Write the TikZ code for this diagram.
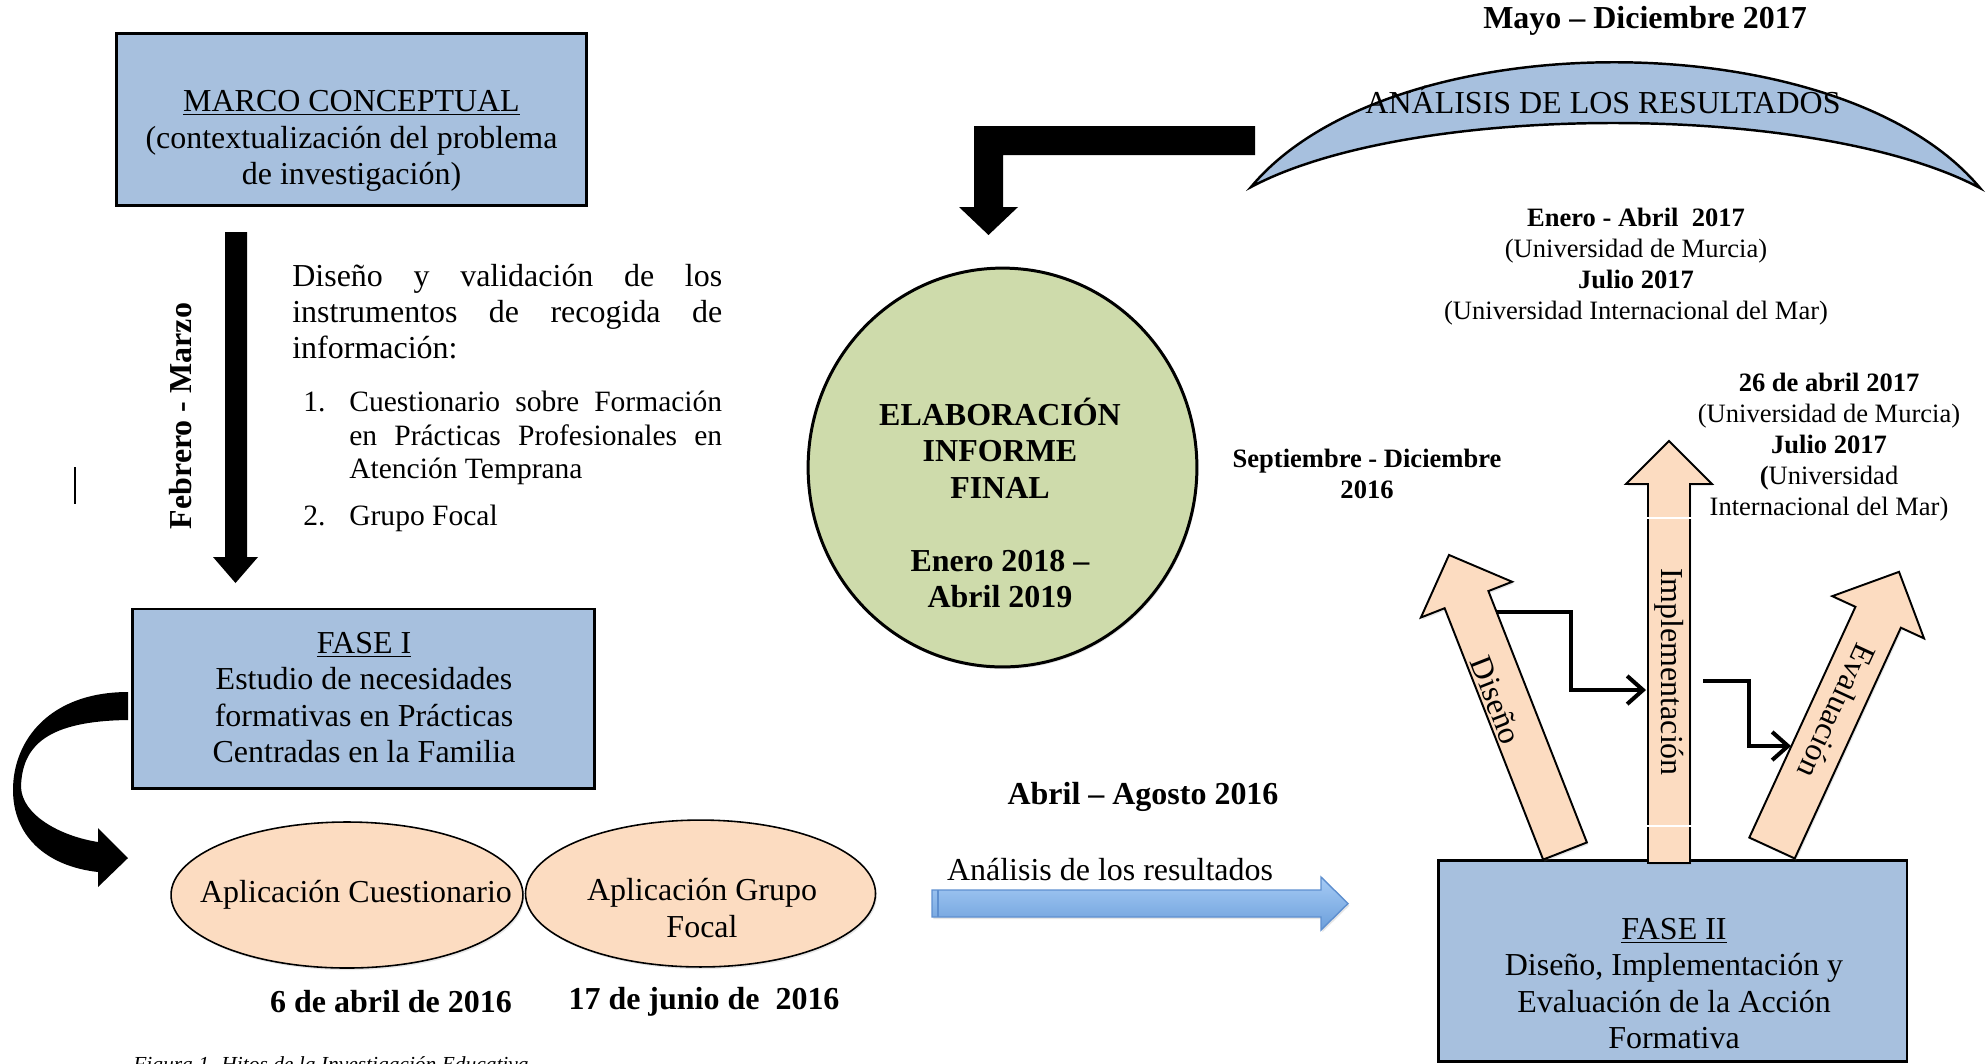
\documentclass[tikz,border=0pt]{standalone}
\usepackage{fontspec}
\setmainfont{Liberation Serif}
\usetikzlibrary{arrows.meta,shapes.geometric,shadows}

\definecolor{boxblue}{HTML}{A7C0DE}
\definecolor{peach}{HTML}{FCDCC1}
\definecolor{sage}{HTML}{CEDBAB}
\definecolor{skytop}{HTML}{A6CBF5}
\definecolor{skybot}{HTML}{6C9FDB}
\definecolor{skyline}{HTML}{5E8FCF}

\newcommand{\sizeL}{\fontsize{18.2}{20.8}\selectfont}
\newcommand{\sizeList}{\fontsize{16.8}{19.3}\selectfont}
\newcommand{\sizeM}{\fontsize{15.1}{17.6}\selectfont}
\newcommand{\sizeS}{\fontsize{12.2}{14.6}\selectfont}

% block arrow pointing along +y, base centred at the origin
% #1 length, #2 shaft width, #3 head width, #4 head length
\newcommand{\upArrow}[4]{%
  \filldraw[arrowbody] (-#2/2,0) -- (-#2/2,#1-#4) -- (-#3/2,#1-#4) -- (0,#1)
    -- (#3/2,#1-#4) -- (#2/2,#1-#4) -- (#2/2,0) -- cycle;}

\begin{document}
\begin{tikzpicture}[x=0.02cm, y=-0.02cm,
  softshadow/.style={drop shadow={shadow xshift=0.8pt, shadow yshift=-1.2pt, opacity=0.2}},
  phasebox/.style={draw=black, line width=1.7pt, fill=boxblue, inner sep=0pt},
  oval/.style={ellipse, draw=black, line width=0.9pt, fill=peach, inner sep=0pt, softshadow},
  arrowbody/.style={draw=black, line width=1.1pt, fill=peach, line join=miter, softshadow},
  txtL/.style={font=\sizeL, align=center, inner sep=0pt},
  txtLb/.style={font=\sizeL\bfseries, align=center, inner sep=0pt},
  txtList/.style={font=\sizeList, inner sep=0pt, anchor=mid west},
  txtM/.style={font=\sizeM, align=center, inner sep=0pt},
  txtMb/.style={font=\sizeM\bfseries, align=center, inner sep=0pt},
  elbow/.style={line width=2.3pt, line join=miter,
    -{Straight Barb[length=9pt, width=16pt, line width=2.3pt]}},
]
\useasboundingbox (0,0) rectangle (1986,1063);
\clip (0,0) rectangle (1986,1063);

% ---------------- left column ----------------
\node[phasebox, minimum width=268pt, minimum height=97.9pt] (marco) at (351.5,119) {};
\node[txtL] (marcotxt) at (351.5,141)
  {\underline{MARCO CONCEPTUAL}\\(contextualización del problema\\de investigación)};

% straight block arrow between the two boxes
\coordinate (fmTop) at (236,232);
\coordinate (fmTip) at (235.5,583);
\fill[black] (fmTop) ++(-11,0) -- ++(22,0) -- (247,557) -- (258,557) -- (fmTip)
  -- (213,557) -- (225,557) -- cycle;
\node[txtLb, rotate=90] (febmar) at (181,416) {Febrero - Marzo};
\draw[line width=1.1pt] (75,467) -- (75,504);

% instruments paragraph
\node[txtL, anchor=mid west] (dis1) at (292,282)
  {\makebox[244.7pt][s]{Diseño y validación de los}};
\node[txtL, anchor=mid west] (dis2) at (292,318)
  {\makebox[244.7pt][s]{instrumentos de recogida de}};
\node[txtL, anchor=mid west] (dis3) at (292,354) {información:};
\node[txtList] (n1) at (303,407) {1.};
\node[txtList] (it1a) at (349,407) {\makebox[212.2pt][s]{Cuestionario sobre Formación}};
\node[txtList] (it1b) at (349,441) {\makebox[212.2pt][s]{en Prácticas Profesionales en}};
\node[txtList] (it1c) at (349,474) {Atención Temprana};
\node[txtList] (n2) at (303,521) {2.};
\node[txtList] (it2) at (349,521) {Grupo Focal};

% phase one
\node[phasebox, minimum width=263.4pt, minimum height=101.9pt] (fase1) at (363.5,698.5) {};
\node[txtL] (fase1txt) at (364,697.5)
  {\underline{FASE I}\\Estudio de necesidades\\formativas en Prácticas\\Centradas en la Familia};

% curved arrow from phase one down to the applications
\fill[black] (128,692) .. controls (50,692) and (13,740) .. (13,790)
  .. controls (13,835) and (45,866) .. (98,872) -- (98,887) -- (128,858) -- (98,828)
  -- (98,842) .. controls (60,836) and (22,815) .. (21,787)
  .. controls (22,745) and (48,721) .. (128,720) -- cycle;

% applications
\node[oval, minimum width=200.3pt, minimum height=83.1pt] (cuest) at (347,895) {};
\node[txtL] (cuesttxt) at (356,895) {Aplicación Cuestionario};
\node[oval, minimum width=199.2pt, minimum height=83.6pt] (grupo) at (700.5,893.5) {};
\node[txtL] (grupotxt) at (702,908) {Aplicación Grupo\\Focal};
\node[txtLb] (fecha1) at (391,1002) {6 de abril de 2016};
\node[txtLb] (fecha2) at (704,1002) {17 de junio de\ \ 2016};

\node[font=\sizeS\itshape, inner sep=0pt, anchor=base west] (caption) at (133,1071)
  {Figura 1. Hitos de la Investigación Educativa};

% ---------------- centre ----------------
\node[ellipse, draw=black, line width=1.7pt, fill=sage, inner sep=0pt,
  minimum width=221.3pt, minimum height=227pt, softshadow] (informe) at (1002.5,467.5) {};
\node[txtLb] (informetxt) at (1000,503)
  {ELABORACIÓN\\INFORME\\FINAL\\[20.8pt]Enero 2018 –\\Abril 2019};

% bent block arrow from the results analysis down to the final report
\coordinate (bentStart) at (1255,140.5);
\coordinate (bentTip) at (988.5,235);
\fill[black] (1255,126) -- (974,126) -- (974,207) -- (959,207) -- (bentTip)
  -- (1018,207) -- (1003,207) -- (1003,155) -- (1255,155) -- cycle;

\node[txtLb] (abrago) at (1143,797) {Abril – Agosto 2016};
\node[txtL] (anres) at (1110,870) {Análisis de los resultados};
\path[draw=skyline, line width=0.8pt, top color=skytop, bottom color=skybot, softshadow]
  (932,890) -- (1321,890) -- (1321,877) -- (1348,903.5) -- (1321,930) -- (1321,917)
  -- (932,917) -- cycle;
\draw[skyline, line width=0.8pt] (938,890) -- (938,917);

% ---------------- right column ----------------
\node[txtLb] (mayo) at (1645,21) {Mayo – Diciembre 2017};
\filldraw[fill=boxblue, draw=black, line width=1.4pt]
  (1251,187) .. controls (1390,20) and (1841,21) .. (1980,188)
  .. controls (1818,102) and (1413,101) .. (1251,187) -- cycle;
\node[txtL, anchor=base] (analisis) at (1603,113) {ANÁLISIS DE LOS RESULTADOS};

\node[txtM] (enero) at (1636,266.5)
  {\textbf{Enero - Abril\ \ 2017}\\(Universidad de Murcia)\\\textbf{Julio 2017}\\(Universidad Internacional del Mar)};
\node[txtM] (abril26) at (1829,447)
  {\textbf{26 de abril 2017}\\(Universidad de Murcia)\\\textbf{Julio 2017}\\\textbf{(}Universidad\\Internacional del Mar)};
\node[txtMb] (septdic) at (1367,473.5) {Septiembre - Diciembre\\2016};

% phase two
\node[phasebox, minimum width=266.9pt, minimum height=114.4pt] (fase2) at (1672.5,960.5) {};
\node[txtL] (fase2txt) at (1674,983.5)
  {\underline{FASE II}\\Diseño, Implementación y\\Evaluación de la Acción\\Formativa};

% the three block arrows rising from phase two
\begin{scope}[shift={(1565,851)}, x=0.02cm, y=0.02cm, rotate=21.4]
  \upArrow{318}{47}{98}{48}
\end{scope}
\begin{scope}[shift={(1669,863)}, x=0.02cm, y=0.02cm]
  \upArrow{422}{42}{86}{43}
\end{scope}
\begin{scope}[shift={(1772,848)}, x=0.02cm, y=0.02cm, rotate=-24.7]
  \upArrow{304}{50}{101}{50}
\end{scope}
\draw[white, line width=0.8pt] (1646,518) -- (1693,518) (1646,826) -- (1693,826);

\node[txtL, rotate=-68.6] (disenotxt) at (1496,700) {Diseño};
\node[txtL, rotate=-90] (impltxt) at (1669,672) {Implementación};
\node[txtL, rotate=-114.7] (evaltxt) at (1837,711) {Evaluación};

% step connectors between the arrows
\coordinate (disR) at (1496,612);
\coordinate (impL) at (1646,690);
\coordinate (impR) at (1703,681);
\coordinate (evaL) at (1791,746);
\draw[elbow] (disR) -- ++(75,0) |- (impL);
\draw[elbow] (impR) -- ++(46,0) |- (evaL);
\end{tikzpicture}
\end{document}
